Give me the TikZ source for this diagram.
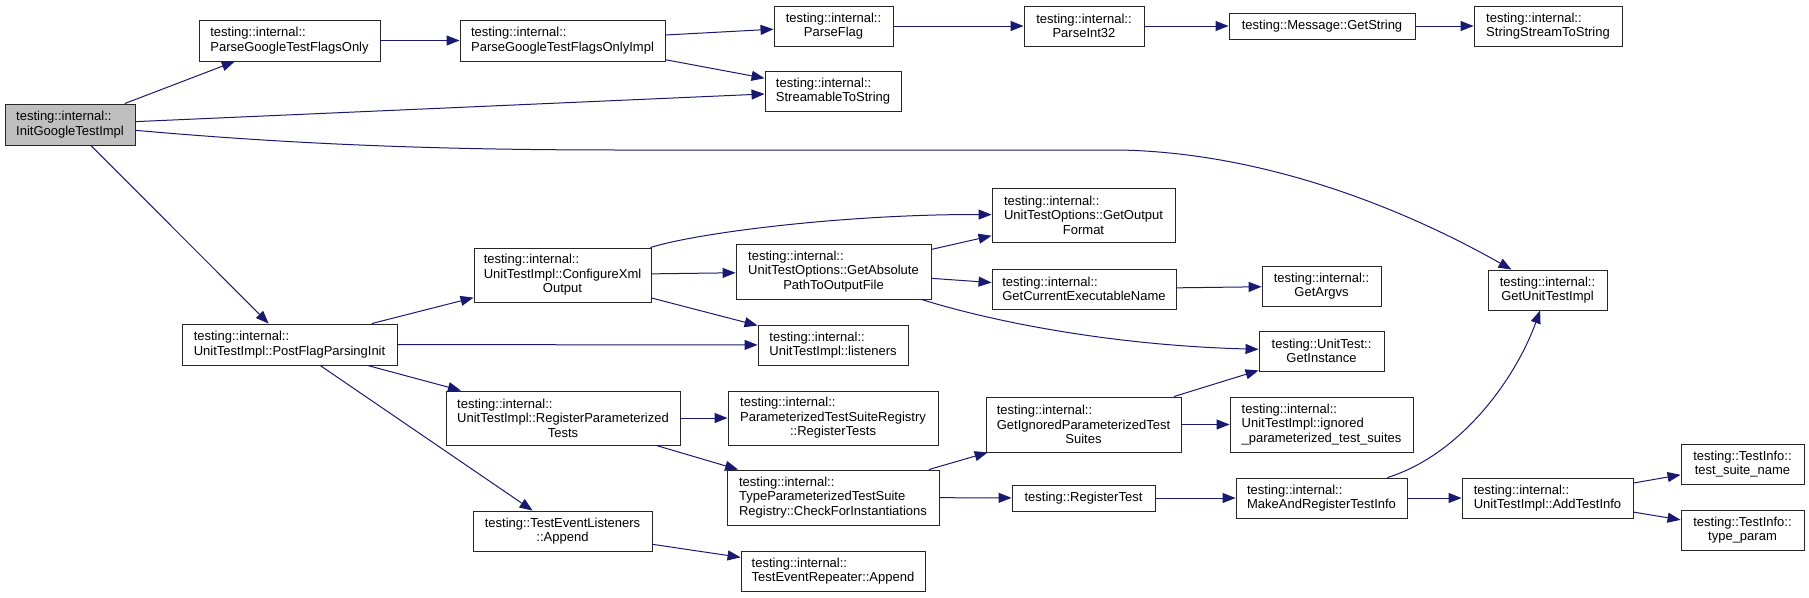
\documentclass[tikz,border=0pt]{standalone}
\usepackage{fontspec}
\setmainfont{Liberation Sans}
\usetikzlibrary{arrows.meta}

\definecolor{edgeblue}{RGB}{25,25,112}
\definecolor{rootgray}{RGB}{191,191,191}
\newcommand{\ctrline}[1]{\hfill#1\hfill\null}

\tikzset{
    fn/.style 2 args={draw=black!85, line width=0.9pt, fill=white, inner sep=0pt,
        minimum width=#1pt, minimum height=#2pt, align=left,
        font=\fontsize{13}{14.5}\selectfont},
    call/.style={->, >={Triangle[length=13pt, width=10pt]}, draw=edgeblue, line width=1pt},
}

\begin{document}
\begin{tikzpicture}[x=1pt, y=-1pt]
            \useasboundingbox (0,0) rectangle (1809,597);

            \node[fn={130}{41}, fill=rootgray] (init) at (70,124.5) {testing::internal::\\InitGoogleTestImpl};
            \node[fn={181}{41}] (pgtfo) at (289.5,40.5) {testing::internal::\\ParseGoogleTestFlagsOnly};
            \node[fn={205}{41}] (pgtfoimpl) at (562.5,40.5) {testing::internal::\\ParseGoogleTestFlagsOnlyImpl};
            \node[fn={119}{40}, align=center] (parseflag) at (833.5,26) {testing::internal::\\ParseFlag};
            \node[fn={120}{40}, align=center] (parseint) at (1084,26) {testing::internal::\\ParseInt32};
            \node[fn={186}{26}] (getstring) at (1322,26) {testing::Message::GetString};
            \node[fn={148}{40}] (ssts) at (1548,26) {testing::internal::\\StringStreamToString};
            \node[fn={136}{40}] (sts) at (833,91) {testing::internal::\\StreamableToString};

            \node[fn={215}{41}] (postflag) at (289.5,344.5) {testing::internal::\\UnitTestImpl::PostFlagParsingInit};
            \node[fn={177}{54}] (cfgxml) at (562.5,275) {testing::internal::\\UnitTestImpl::ConfigureXml\\\ctrline{Output}};
            \node[fn={195}{55}] (getabs) at (833.5,271.5) {testing::internal::\\UnitTestOptions::GetAbsolute\\\ctrline{PathToOutputFile}};
            \node[fn={183}{54}] (gof) at (1083.5,215) {testing::internal::\\UnitTestOptions::GetOutput\\\ctrline{Format}};
            \node[fn={184}{40}] (gcen) at (1084,289) {testing::internal::\\GetCurrentExecutableName};
            \node[fn={119}{40}, align=center] (getargvs) at (1321.5,286) {testing::internal::\\GetArgvs};
            \node[fn={119}{40}, align=center] (gutimpl) at (1547.5,290) {testing::internal::\\GetUnitTestImpl};
            \node[fn={150}{40}] (listeners) at (833,345) {testing::internal::\\UnitTestImpl::listeners};
            \node[fn={125}{40}, align=center] (getinst) at (1321.5,351) {testing::UnitTest::\\GetInstance};

            \node[fn={234}{54}] (rpt) at (563,418) {testing::internal::\\UnitTestImpl::RegisterParameterized\\\ctrline{Tests}};
            \node[fn={210}{54}] (ptsr) at (833,418) {testing::internal::\\ParameterizedTestSuiteRegistry\\\ctrline{::RegisterTests}};
            \node[fn={195}{55}] (getign) at (1083.5,424.5) {testing::internal::\\GetIgnoredParameterizedTest\\\ctrline{Suites}};
            \node[fn={183}{55}] (ignored) at (1321.5,424.5) {testing::internal::\\UnitTestImpl::ignored\\\_parameterized\_test\_suites};
            \node[fn={212}{55}] (cfi) at (833,497.5) {testing::internal::\\TypeParameterizedTestSuite\\Registry::CheckForInstantiations};
            \node[fn={143}{26}] (regtest) at (1083.5,498) {testing::RegisterTest};
            \node[fn={171}{40}] (mar) at (1321.5,498) {testing::internal::\\MakeAndRegisterTestInfo};
            \node[fn={171}{40}] (addti) at (1547.5,498) {testing::internal::\\UnitTestImpl::AddTestInfo};
            \node[fn={123}{40}, align=center] (tsn) at (1742.5,464) {testing::TestInfo::\\test\_suite\_name};
            \node[fn={123}{40}, align=center] (tparam) at (1742.5,530) {testing::TestInfo::\\type\_param};
            \node[fn={179}{40}, align=center] (telappend) at (562.5,531) {testing::TestEventListeners\\::Append};
            \node[fn={184}{40}] (terappend) at (833,571) {testing::internal::\\TestEventRepeater::Append};

            \draw[call] (init) -- (pgtfo);
            \draw[call] (init) -- (sts);
            \draw[call] (init) .. controls (300,145) and (450,150) .. (620,150) -- (1120,150)
                .. controls (1270,153) and (1410,212) .. (gutimpl);
            \draw[call] (init) -- (postflag);
            \draw[call] (pgtfo) -- (pgtfoimpl);
            \draw[call] (pgtfoimpl) -- (parseflag);
            \draw[call] (pgtfoimpl) -- (sts);
            \draw[call] (parseflag) -- (parseint);
            \draw[call] (parseint) -- (getstring);
            \draw[call] (getstring) -- (ssts);

            \draw[call] (postflag) -- (cfgxml);
            \draw[call] (postflag) -- (listeners);
            \draw[call] (postflag) -- (rpt);
            \draw[call] (postflag) -- (telappend);
            \draw[call] (cfgxml) .. controls (700,232) and (850,214) .. (gof);
            \draw[call] (cfgxml) -- (getabs);
            \draw[call] (cfgxml) -- (listeners);
            \draw[call] (getabs) -- (gof);
            \draw[call] (getabs) -- (gcen);
            \draw[call] (getabs) .. controls (980,318) and (1100,345) .. (getinst);
            \draw[call] (gcen) -- (getargvs);

            \draw[call] (rpt) -- (ptsr);
            \draw[call] (rpt) -- (cfi);
            \draw[call] (cfi) -- (getign);
            \draw[call] (cfi) -- (regtest);
            \draw[call] (getign) -- (getinst);
            \draw[call] (getign) -- (ignored);
            \draw[call] (regtest) -- (mar);
            \draw[call] (mar) .. controls (1460,455) and (1515,380) .. (gutimpl);
            \draw[call] (mar) -- (addti);
            \draw[call] (addti) -- (tsn);
            \draw[call] (addti) -- (tparam);
            \draw[call] (telappend) -- (terappend);
        \end{tikzpicture}
\end{document}
